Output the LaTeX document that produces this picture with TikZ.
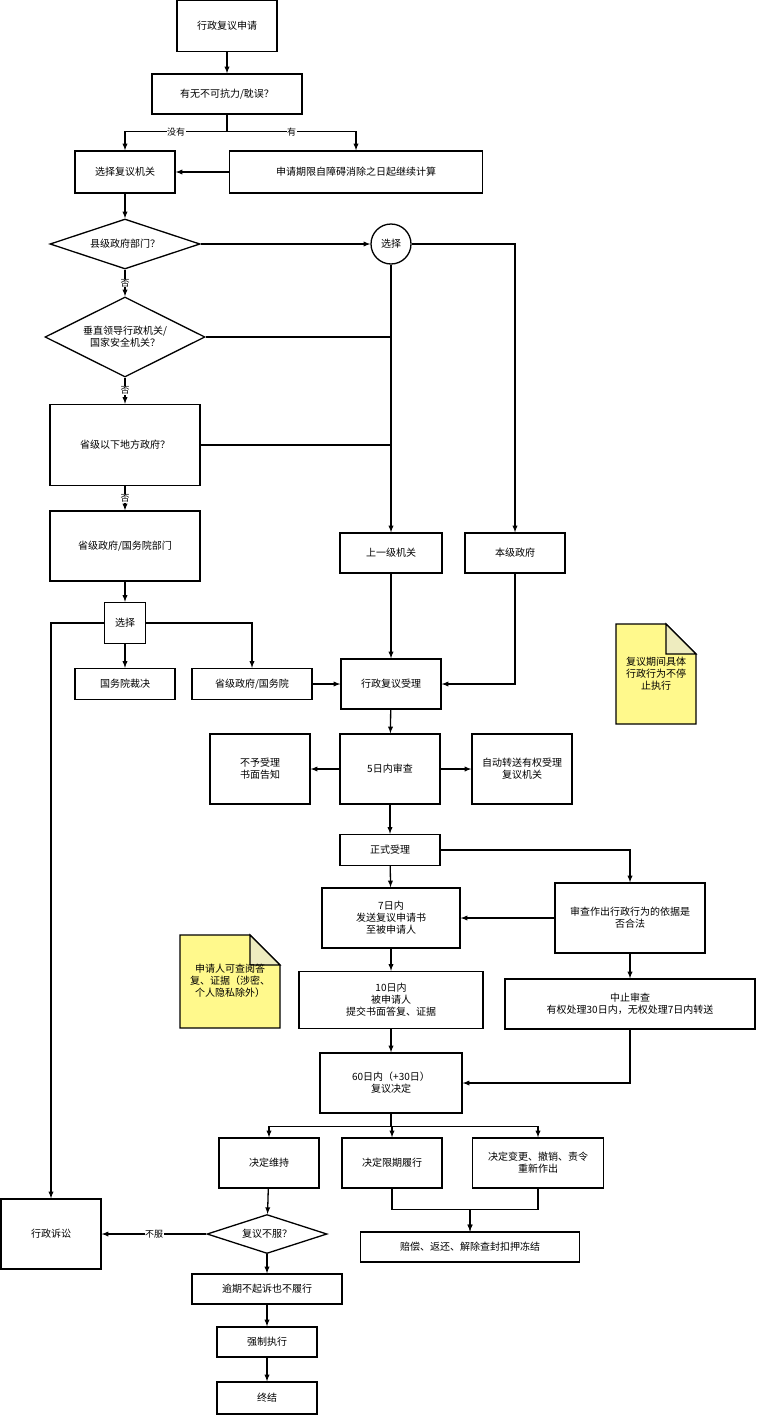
\documentclass[tikz,border=0pt]{standalone}
\usepackage{fontspec}
\setmainfont{Noto Sans CJK SC}
\usetikzlibrary{shapes.geometric}
\tikzset{>=latex}

\begin{document}
\begin{tikzpicture}[x=1pt,y=-1pt,line width=1.3pt,
    box/.style={draw,rectangle,inner sep=1pt,align=center,font=\fontsize{10}{12}\selectfont},
    ask/.style={draw,diamond,inner sep=0pt,align=center,font=\fontsize{10}{12}\selectfont},
    lbl/.style={fill=white,inner sep=0.5pt,font=\fontsize{9}{10}\selectfont}]
\useasboundingbox (0,0) rectangle (756,1416);
% top part
\node[box,minimum width=100,minimum height=51] (apply) at (227,26) {行政复议申请};
\node[box,minimum width=150,minimum height=40] (force) at (227,94) {有无不可抗力/耽误？};
\node[box,minimum width=100,minimum height=42] (choose) at (125,172) {选择复议机关};
\node[box,minimum width=253,minimum height=42] (contin) at (356,172) {申请期限自障碍消除之日起继续计算};
\node[ask,minimum width=150,minimum height=50,aspect=3] (county) at (125,244) {县级政府部门？};
\node[draw,circle,minimum size=40,inner sep=0pt,font=\fontsize{10}{12}\selectfont] (pick) at (391,244) {选择};
\node[ask,minimum width=160,minimum height=80,aspect=2] (vert) at (125,337) {垂直领导行政机关/\\国家安全机关？};
\node[box,minimum width=150,minimum height=81] (local) at (125,445) {省级以下地方政府？};
\node[box,minimum width=150,minimum height=70] (prov) at (125,546) {省级政府/国务院部门};
\node[box,minimum width=41,minimum height=41] (pick2) at (125,623) {选择};
\node[box,minimum width=100,minimum height=31] (state) at (125,684) {国务院裁决};
\node[box,minimum width=120,minimum height=31] (provstate) at (252,684) {省级政府/国务院};
\node[box,minimum width=102,minimum height=40] (upper) at (391,553) {上一级机关};
\node[box,minimum width=100,minimum height=40] (same) at (515,553) {本级政府};
% middle part
\node[box,minimum width=100,minimum height=50] (accept) at (391,684) {行政复议受理};
\node[box,minimum width=100,minimum height=70] (check5) at (390,769) {5日内审查};
\node[box,minimum width=100,minimum height=70] (reject) at (260,769) {不予受理\\书面告知};
\node[box,minimum width=100,minimum height=70] (transfer) at (522,769) {自动转送有权受理\\复议机关};
\node[box,minimum width=100,minimum height=31] (formal) at (390,850) {正式受理};
\node[box,minimum width=138,minimum height=60] (send7) at (391,918) {7日内\\发送复议申请书\\至被申请人};
\node[box,minimum width=150,minimum height=70] (legal) at (630,918) {审查作出行政行为的依据是\\否合法};
\node[box,minimum width=184,minimum height=57] (reply10) at (391,1000) {10日内\\被申请人\\提交书面答复、证据};
\node[box,minimum width=250,minimum height=50] (suspend) at (630,1004) {中止审查\\有权处理30日内，无权处理7日内转送};
\node[box,minimum width=142,minimum height=60] (decide) at (391,1083) {60日内（+30日）\\复议决定};
% bottom part
\node[box,minimum width=100,minimum height=50] (keep) at (269,1163) {决定维持};
\node[box,minimum width=100,minimum height=50] (limit) at (392,1163) {决定限期履行};
\node[box,minimum width=131,minimum height=50] (change) at (538,1163) {决定变更、撤销、责令\\重新作出};
\node[box,minimum width=100,minimum height=70] (suit) at (51,1234) {行政诉讼};
\node[ask,minimum width=120,minimum height=39,aspect=3] (refuse) at (267,1234) {复议不服？};
\node[box,minimum width=219,minimum height=30] (comp) at (470,1247) {赔偿、返还、解除查封扣押冻结};
\node[box,minimum width=150,minimum height=30] (overdue) at (267,1289) {逾期不起诉也不履行};
\node[box,minimum width=100,minimum height=30] (enforce) at (267,1342) {强制执行};
\node[box,minimum width=100,minimum height=32] (finish) at (267,1398) {终结};
% notes
\begin{scope}[fill=yellow!45,line width=1.2pt]
\filldraw (616,624) -- (666,624) -- (696,654) -- (696,724) -- (616,724) -- cycle;
\filldraw[fill=yellow!25!olive!20] (666,624) -- (666,654) -- (696,654) -- cycle;
\filldraw (180,935) -- (250,935) -- (280,965) -- (280,1028) -- (180,1028) -- cycle;
\filldraw[fill=yellow!25!olive!20] (250,935) -- (250,965) -- (280,965) -- cycle;
\end{scope}
\node[align=center,font=\fontsize{10}{12}\selectfont] (note1) at (656,674) {复议期间具体\\行政行为不停\\止执行};
\node[align=center,font=\fontsize{10}{12}\selectfont] (note2) at (230,981) {申请人可查阅答\\复、证据（涉密、\\个人隐私除外）};
% connectors
\draw[->] (apply) -- (force);
\draw[->] (force.south) -- ++(0,17) -| node[lbl,pos=0.25] {没有} (choose);
\draw[->] (force.south) -- ++(0,17) -| node[lbl,pos=0.25] {有} (contin);
\draw[->] (contin) -- (choose);
\draw[->] (choose) -- (county);
\draw[->] (county) -- (pick);
\draw[->] (county) -- node[lbl] {否} (vert);
\draw[->] (vert) -- node[lbl] {否} (local);
\draw[->] (local) -- node[lbl] {否} (prov);
\draw[->] (pick) -- (upper);
\draw[->] (pick) -| (same);
\draw (vert.east) -- (pick.south |- vert.east);
\draw (local.east) -- (pick.south |- local.east);
\draw[->] (prov) -- (pick2);
\draw[->] (pick2) -- (state);
\draw[->] (pick2) -| (provstate);
\draw[->] (pick2) -| (suit);
\draw[->] (provstate) -- (accept);
\draw[->] (upper) -- (accept);
\draw[->] (same) |- (accept);
\draw[->] (accept) -- (check5);
\draw[->] (check5) -- (reject);
\draw[->] (check5) -- (transfer);
\draw[->] (check5) -- (formal);
\draw[->] (formal) -- (send7);
\draw[->] (formal) -| (legal);
\draw[->] (legal) -- (send7);
\draw[->] (legal) -- (suspend);
\draw[->] (send7) -- (reply10);
\draw[->] (reply10) -- (decide);
\draw[->] (suspend) |- (decide);
\draw[->] (decide.south) -- ++(0,13) -| (keep);
\draw[->] (decide.south) -- ++(0,13) -| (limit);
\draw[->] (decide.south) -- ++(0,13) -| (change);
\draw[->] (keep) -- (refuse);
\draw[->] (refuse) -- node[lbl] {不服} (suit);
\draw[->] (limit.south) -- ++(0,21) -| (comp);
\draw[->] (change.south) -- ++(0,21) -| (comp);
\draw[->] (refuse) -- (overdue);
\draw[->] (overdue) -- (enforce);
\draw[->] (enforce) -- (finish);
\end{tikzpicture}
\end{document}
